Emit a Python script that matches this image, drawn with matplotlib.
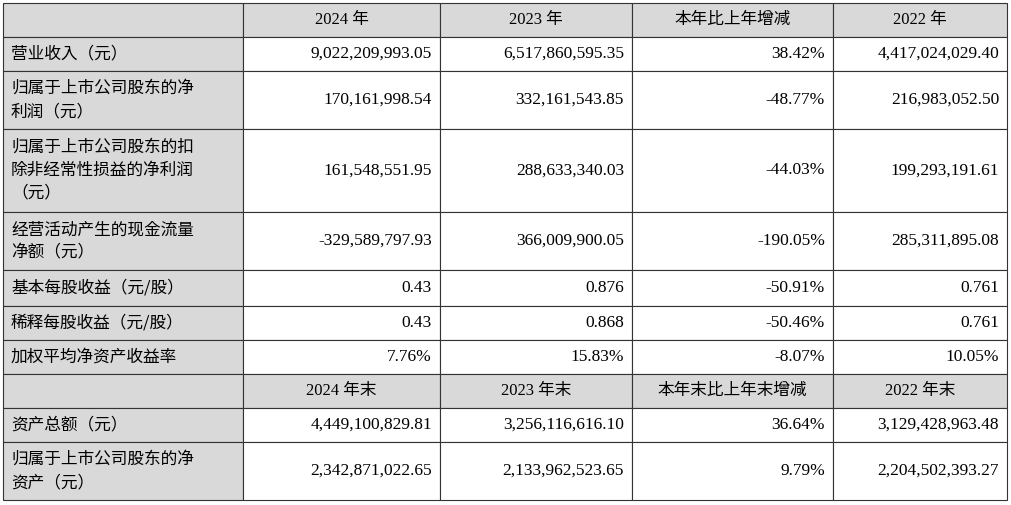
import matplotlib
matplotlib.use("Agg")
import matplotlib.pyplot as plt
from matplotlib.patches import Rectangle

# table content
header1 = ["", "2024 年", "2023 年", "本年比上年增减", "2022 年"]
header2 = ["", "2024 年末", "2023 年末", "本年末比上年末增减", "2022 年末"]
labels1 = ["营业收入（元）", "归属于上市公司股东的净\n利润（元）",
           "归属于上市公司股东的扣\n除非经常性损益的净利润\n（元）",
           "经营活动产生的现金流量\n净额（元）", "基本每股收益（元/股）",
           "稀释每股收益（元/股）", "加权平均净资产收益率"]
vals_2024 = ["9,022,209,993.05", "170,161,998.54", "161,548,551.95",
             "-329,589,797.93", "0.43", "0.43", "7.76%"]
vals_2023 = ["6,517,860,595.35", "332,161,543.85", "288,633,340.03",
             "366,009,900.05", "0.876", "0.868", "15.83%"]
vals_chg = ["38.42%", "-48.77%", "-44.03%", "-190.05%", "-50.91%", "-50.46%", "-8.07%"]
vals_2022 = ["4,417,024,029.40", "216,983,052.50", "199,293,191.61",
             "285,311,895.08", "0.761", "0.761", "10.05%"]
labels2 = ["资产总额（元）", "归属于上市公司股东的净\n资产（元）"]
end_2024 = ["4,449,100,829.81", "2,342,871,022.65"]
end_2023 = ["3,256,116,616.10", "2,133,962,523.65"]
end_chg = ["36.64%", "9.79%"]
end_2022 = ["3,129,428,963.48", "2,204,502,393.27"]

xs = [3, 243, 440, 632, 833, 1007]
ys = [3, 37, 71, 129, 212, 270, 306, 340, 374, 408, 442, 500]
GRAY = "#d9d9d9"
CJK_LIST = ["Noto Sans CJK SC", "Noto Sans CJK JP", "Noto Sans CJK TC", "Noto Sans CJK KR"]
NUM = "Liberation Serif"

rows = [("h", header1)]
for i in range(len(labels1)):
    rows.append(("d", [labels1[i], vals_2024[i], vals_2023[i], vals_chg[i], vals_2022[i]]))
rows.append(("h", header2))
for i in range(len(labels2)):
    rows.append(("d", [labels2[i], end_2024[i], end_2023[i], end_chg[i], end_2022[i]]))

fig = plt.figure(figsize=(10.11, 5.05), dpi=100)
ax = fig.add_axes([0, 0, 1, 1])
ax.set_xlim(0, 1011); ax.set_ylim(505, 0); ax.axis("off")

for r, (kind, cells) in enumerate(rows):
    y0, y1 = ys[r], ys[r + 1]
    yc = (y0 + y1) / 2
    for c, txt in enumerate(cells):
        x0, x1 = xs[c], xs[c + 1]
        fc = GRAY if (kind == "h" or c == 0) else "white"
        ax.add_patch(Rectangle((x0, y0), x1 - x0, y1 - y0, facecolor=fc,
                               edgecolor="#333333", linewidth=0.8))
        if not txt:
            continue
        if kind == "h":
            ax.text((x0 + x1) / 2, yc, txt, ha="center", va="center",
                    fontsize=12, family=[NUM] + CJK_LIST)
        elif c == 0:
            ax.text(x0 + 8, yc, txt, ha="left", va="center", fontsize=12,
                    family=CJK_LIST, linespacing=1.45)
        else:
            ax.text(x1 - 8, yc, txt, ha="right", va="center", fontsize=12.5,
                    family=NUM)

fig.savefig("out.png", dpi=100, facecolor="white")
